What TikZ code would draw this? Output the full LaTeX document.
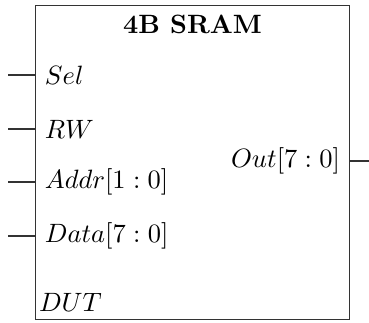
\documentclass[tikz,border=0pt]{standalone}
\begin{document}
\begin{tikzpicture}[x=0.3774pt,y=-0.3774pt,line width=0.45pt,
  port/.style={anchor=west},
  wire/.style={draw=black!80}]
\useasboundingbox (0,0) rectangle (369,323);
\node[draw=black!80, minimum width=118.5pt, minimum height=118.5pt, inner sep=0pt] (sram) at (192.5,162.7) {};
\node[anchor=north, font=\bfseries] (title) at (sram.north) {4B SRAM};
\node[port] (sel) at (35.5,75) {$Sel$};
\node[port] (rw) at (35.5,129) {$RW$};
\node[port] (addr) at (35.5,182) {$Addr[1:0]$};
\node[port] (data) at (35.5,236) {$Data[7:0]$};
\node[anchor=base west, inner sep=0pt] (dut) at (38.5,311.5) {$DUT$};
\node[anchor=east] (out) at (349.5,161) {$Out[7:0]$};
\coordinate (selin) at (8.3,75);
\coordinate (rwin) at (8.3,129);
\coordinate (addrin) at (8.3,182);
\coordinate (datain) at (8.3,236);
\coordinate (outend) at (369,161);
\draw[wire] (selin) -- (sel.west);
\draw[wire] (rwin) -- (rw.west);
\draw[wire] (addrin) -- (addr.west);
\draw[wire] (datain) -- (data.west);
\draw[wire] (out.east) -- (outend);
\end{tikzpicture}
\end{document}
